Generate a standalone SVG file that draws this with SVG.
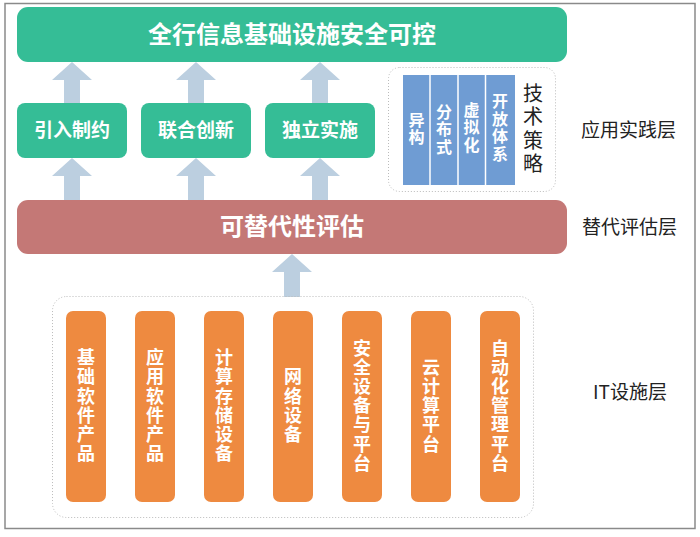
<svg xmlns="http://www.w3.org/2000/svg" width="700" height="537" viewBox="0 0 700 537">
<defs>
<style>
.cjk{font-family:"Noto Sans CJK SC","Noto Sans",sans-serif}
.wb{fill:#fff;font-weight:bold}
.lbl{fill:#222;font-size:19px}
.green{fill:#35BD96}
.red{fill:#C47876}
.blue{fill:#6F9CD3}
.orange{fill:#EE8A40}
.dot{fill:none;stroke:#bbb;stroke-width:1;stroke-dasharray:1 2}
.arr{fill:#BCCFE0}
.v{writing-mode:vertical-rl;text-orientation:upright}
</style>
</defs>
<rect x="0" y="0" width="700" height="537" fill="#fff"/>
<rect x="5" y="3.5" width="690" height="525" fill="none" stroke="#8a8a8a" stroke-width="1.5"/>

<g id="connectors" class="arr">
<path d="M72 62 L92 80 L80 80 L80 103 L64 103 L64 80 L52 80 Z"/>
<path d="M196 62 L216 80 L204 80 L204 103 L188 103 L188 80 L176 80 Z"/>
<path d="M320 62 L340 80 L328 80 L328 103 L312 103 L312 80 L300 80 Z"/>
<path d="M72 158 L92 176 L80 176 L80 200 L64 200 L64 176 L52 176 Z"/>
<path d="M196 158 L216 176 L204 176 L204 200 L188 200 L188 176 L176 176 Z"/>
<path d="M320 158 L340 176 L328 176 L328 200 L312 200 L312 176 L300 176 Z"/>
<path d="M292 254 L312 272 L300 272 L300 297 L284 297 L284 272 L272 272 Z"/>
</g>

<g id="top">
<rect class="green" x="17" y="7" width="550" height="55" rx="11"/>
<text class="cjk wb" x="292" y="43" font-size="24" text-anchor="middle">全行信息基础设施安全可控</text>
</g>

<g id="n1">
<rect class="green" x="17" y="103" width="110" height="55" rx="8"/>
<text class="cjk wb" x="72" y="137" font-size="19" text-anchor="middle">引入制约</text>
</g>
<g id="n2">
<rect class="green" x="141" y="103" width="110" height="55" rx="8"/>
<text class="cjk wb" x="196" y="137" font-size="19" text-anchor="middle">联合创新</text>
</g>
<g id="n3">
<rect class="green" x="265" y="103" width="110" height="55" rx="8"/>
<text class="cjk wb" x="320" y="137" font-size="19" text-anchor="middle">独立实施</text>
</g>

<g id="strategy">
<rect class="dot" x="388.5" y="67.5" width="167" height="124" rx="11"/>
<rect class="blue" x="403" y="75" width="112" height="110"/>
<g stroke="#fff" stroke-width="1.5">
<line x1="430" y1="75" x2="430" y2="185"/>
<line x1="458" y1="75" x2="458" y2="185"/>
<line x1="485.5" y1="75" x2="485.5" y2="185"/>
</g>
<g class="cjk wb v" font-size="16" text-anchor="middle" letter-spacing="1.5">
<text x="416.5" y="129">异构</text>
<text x="444" y="130">分布式</text>
<text x="471.5" y="128">虚拟化</text>
<text x="500" y="128">开放体系</text>
</g>
<text class="cjk v" fill="#222" font-size="20" text-anchor="middle" letter-spacing="3.3" x="533" y="130">技术策略</text>
</g>

<g id="eval">
<rect class="red" x="17" y="200" width="550" height="54" rx="11"/>
<text class="cjk wb" x="292" y="235" font-size="24" text-anchor="middle">可替代性评估</text>
</g>

<g id="it">
<rect class="dot" x="52.5" y="296.5" width="481" height="221" rx="14"/>
<rect class="orange" x="66" y="311" width="40" height="191" rx="7"/>
<rect class="orange" x="135" y="311" width="40" height="191" rx="7"/>
<rect class="orange" x="204" y="311" width="40" height="191" rx="7"/>
<rect class="orange" x="273" y="311" width="40" height="191" rx="7"/>
<rect class="orange" x="342" y="311" width="40" height="191" rx="7"/>
<rect class="orange" x="411" y="311" width="40" height="191" rx="7"/>
<rect class="orange" x="480" y="311" width="40" height="191" rx="7"/>
<g class="cjk wb v" font-size="18" text-anchor="middle" letter-spacing="1.2">
<text x="86" y="406">基础软件产品</text>
<text x="155" y="406">应用软件产品</text>
<text x="224" y="406">计算存储设备</text>
<text x="293" y="406">网络设备</text>
<text x="362" y="406">安全设备与平台</text>
<text x="431" y="406">云计算平台</text>
<text x="500" y="406">自动化管理平台</text>
</g>
</g>

<g id="layers">
<text class="cjk lbl" x="581" y="137">应用实践层</text>
<text class="cjk lbl" x="582" y="234">替代评估层</text>
<text class="cjk lbl" x="593" y="399">IT设施层</text>
</g>
</svg>
